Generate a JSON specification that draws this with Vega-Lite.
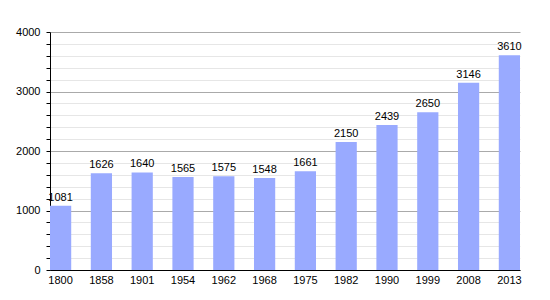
{
  "$schema": "https://vega.github.io/schema/vega-lite/v6.json",
  "width": 470,
  "height": 238,
  "autosize": {"type": "none"},
  "padding": {"left": 50, "top": 32, "right": 30, "bottom": 30},
  "background": "white",
  "config": {
    "view": {"stroke": null},
    "font": "Liberation Sans",
    "axis": {"labelFont": "Liberation Sans", "labelFontSize": 11, "labelColor": "#000"}
  },
  "data": {
    "values": [
      {"year": "1800", "pop": 1081},
      {"year": "1858", "pop": 1626},
      {"year": "1901", "pop": 1640},
      {"year": "1954", "pop": 1565},
      {"year": "1962", "pop": 1575},
      {"year": "1968", "pop": 1548},
      {"year": "1975", "pop": 1661},
      {"year": "1982", "pop": 2150},
      {"year": "1990", "pop": 2439},
      {"year": "1999", "pop": 2650},
      {"year": "2008", "pop": 3146},
      {"year": "2013", "pop": 3610}
    ]
  },
  "encoding": {
    "x": {
      "field": "year",
      "type": "ordinal",
      "sort": null,
      "scale": {"paddingInner": 0.48, "paddingOuter": 0},
      "axis": {
        "title": null,
        "labelAngle": 0,
        "ticks": false,
        "domainColor": "#000",
        "domainWidth": 1,
        "labelPadding": 4
      }
    },
    "y": {
      "field": "pop",
      "type": "quantitative",
      "scale": {"domain": [0, 4000], "nice": false},
      "axis": {
        "title": null,
        "values": [0, 200, 400, 600, 800, 1000, 1200, 1400, 1600, 1800, 2000, 2200, 2400, 2600, 2800, 3000, 3200, 3400, 3600, 3800, 4000],
        "labelExpr": "datum.value % 1000 === 0 ? format(datum.value, 'd') : ''",
        "grid": true,
        "gridColor": {"condition": {"test": "datum.value % 1000 === 0", "value": "#aaaaaa"}, "value": "#e6e6e6"},
        "domainColor": "#000",
        "tickColor": "#000",
        "tickSize": 4,
        "labelPadding": 6
      }
    }
  },
  "layer": [
    {"mark": {"type": "bar", "color": "#99aaff"}},
    {
      "mark": {"type": "text", "baseline": "bottom", "dy": -3, "fontSize": 11, "color": "#000"},
      "encoding": {"text": {"field": "pop", "type": "quantitative", "format": "d"}}
    }
  ]
}
